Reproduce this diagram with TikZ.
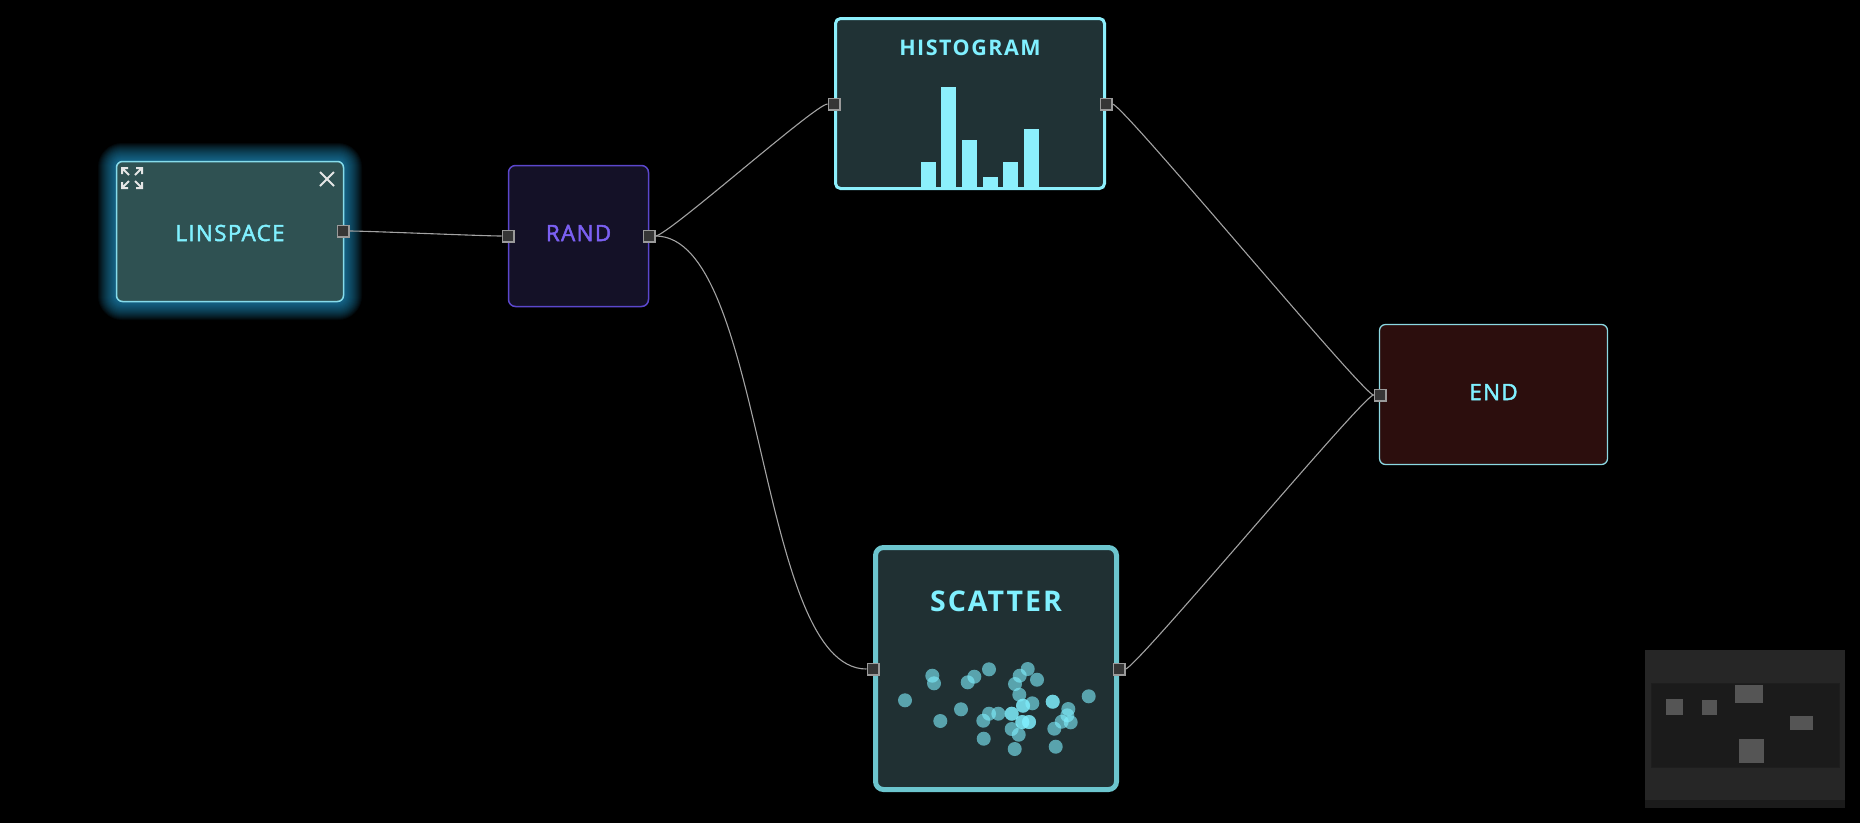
\documentclass[tikz,border=0pt]{standalone}
\usepackage{fontspec}
\setmainfont{Open Sans}
\newfontfamily\lblfont[LetterSpace=6,FakeBold=2.2]{Open Sans}
\newfontfamily\ttlfont[LetterSpace=7]{Open Sans}
\usetikzlibrary{calc}
\definecolor{bg}{HTML}{000000}
\definecolor{txtcyan}{HTML}{80F0FF}
\definecolor{lsfill}{HTML}{2F5152}
\definecolor{lsborder}{HTML}{86DCEB}
\definecolor{glowc}{HTML}{2AA8E0}
\definecolor{rfill}{HTML}{141127}
\definecolor{rborder}{HTML}{5B47CC}
\definecolor{rtext}{HTML}{7B60F2}
\definecolor{hfill}{HTML}{203235}
\definecolor{hborder}{HTML}{8CEFFC}
\definecolor{sfill}{HTML}{203033}
\definecolor{sborder}{HTML}{6CC5CE}
\definecolor{efill}{HTML}{2C0E0D}
\definecolor{eborder}{HTML}{8CD8E2}
\definecolor{portfill}{HTML}{363636}
\definecolor{portborder}{HTML}{9A9A9A}
\definecolor{edgec}{HTML}{A3A3A3}
\definecolor{mmouter}{HTML}{262626}
\definecolor{mminner}{HTML}{1B1B1B}
\definecolor{mmnode}{HTML}{555555}
\begin{document}
\begin{tikzpicture}[x=1pt,y=-1pt,
  box/.style={inner sep=0pt, outer sep=0pt},
  port/.style={draw=portborder, fill=portfill, line width=1.5pt, minimum size=11.5pt, inner sep=0pt},
  edge/.style={draw=edgec, line width=1.1pt},
  lbl/.style={text=txtcyan, font=\lblfont\fontsize{22.4}{26}\selectfont},
  title/.style={text=txtcyan, font=\ttlfont\bfseries\fontsize{21.5}{25}\selectfont},
  icon/.style={draw=white!90!black, line width=2pt},
  dot/.style={fill=txtcyan, fill opacity=0.6},
  bar/.style={fill=hborder}
]
\fill[bg] (0,0) rectangle (1860,823);
\useasboundingbox (0,0) rectangle (1860,823);

% glow around LINSPACE
\foreach \i in {1,...,18} {
  \fill[glowc, opacity=0.05, rounded corners=6+\i] (116-\i,161-\i) rectangle (344+\i,302+\i);
}

% LINSPACE
\node[box, draw=lsborder, fill=lsfill, line width=1.5pt, rounded corners=6pt,
  minimum width=227pt, minimum height=140pt] (ls) at (230,231.5) {};
\node[lbl] (lstxt) at (230,233) {LINSPACE};
% expand icon
\draw[icon] (122,174)--(122,168)--(128,168) (122,168)--(129,175);
\draw[icon] (136,168)--(142,168)--(142,174) (142,168)--(135,175);
\draw[icon] (122,182)--(122,188)--(128,188) (122,188)--(129,181);
\draw[icon] (142,182)--(142,188)--(136,188) (142,188)--(135,181);
% close icon
\draw[icon] (320,172)--(334,186) (334,172)--(320,186);

% RAND
\node[box, draw=rborder, fill=rfill, line width=1.5pt, rounded corners=7pt,
  minimum width=140pt, minimum height=141pt] (rand) at (578.5,236) {};
\node[lbl, text=rtext] (randtxt) at (578.5,233) {RAND};

% HISTOGRAM
\node[box, draw=hborder, fill=hfill, line width=3pt, rounded corners=5pt,
  minimum width=269pt, minimum height=170pt] (hist) at (970,103.5) {};
\node[title] (histtxt) at (970,48) {HISTOGRAM};
\fill[bar] (921,162) rectangle (936,188);
\fill[bar] (941,87) rectangle (956,188);
\fill[bar] (962,140) rectangle (977,188);
\fill[bar] (983,177) rectangle (998,188);
\fill[bar] (1003,162) rectangle (1018,188);
\fill[bar] (1024,129) rectangle (1039,188);

% SCATTER
\node[box, draw=sborder, fill=sfill, line width=5pt, rounded corners=8pt,
  minimum width=241pt, minimum height=242pt] (scat) at (996,668.5) {};
\node[title, font=\ttlfont\bfseries\fontsize{28.5}{32}\selectfont] (scattxt) at (996,601.5) {SCATTER};
\foreach \x/\y in {932.3/675.7, 934/683.3, 905/700.3, 940.3/721, 961/709.3, 967.7/682.3,
  974.3/676.7, 989/669.3, 983.3/720.7, 989/713.7, 998.3/713.7, 983.7/738.7,
  1011.7/713.7, 1011.7/713.7, 1015/684, 1019.7/675.7, 1027.7/669, 1037/679.7, 1019.3/694.7,
  1023/705.7, 1023/705.7, 1032.3/703.3, 1011.7/729, 1018.7/734.7, 1014.7/749,
  1022.3/722, 1022.3/722, 1029/722, 1029/722, 1052.7/701.7, 1052.7/701.7, 1054.3/728.7,
  1061.7/721.7, 1068.3/709, 1067.3/715.3, 1070.7/722.3, 1055.7/746.7, 1088.7/696.3} {
  \fill[dot] (\x,\y) circle (7);
}

% END
\node[box, draw=eborder, fill=efill, line width=1.3pt, rounded corners=6pt,
  minimum width=228pt, minimum height=140pt] (endn) at (1493.5,394.5) {};
\node[lbl] (endtxt) at (1493.5,392) {END};

% ports
\node[port] (lsout) at (343,231) {};
\node[port] (rin) at (508,236) {};
\node[port] (rout) at (649,236) {};
\node[port] (hin) at (834,104) {};
\node[port] (hout) at (1106,104) {};
\node[port] (sin) at (873,669) {};
\node[port] (sout) at (1119,669) {};
\node[port] (ein) at (1380,395) {};

% edges
\draw[edge] (lsout.east) .. controls +(18,0) and +(-18,0) .. (rin.west);
\draw[edge] (rout.east) .. controls +(12,0) and +(-12,0) .. (hin.west);
\draw[edge] (rout.east) .. controls +(110,0) and +(-110,0) .. (sin.west);
\draw[edge] (hout.east) .. controls +(10,0) and +(-10,0) .. (ein.west);
\draw[edge] (sout.east) .. controls +(10,0) and +(-10,0) .. (ein.west);

% minimap
\fill[mmouter] (1645,650) rectangle (1845,808);
\fill[mminner] (1645,800) rectangle (1845,808);
\fill[mminner, draw=mmouter!80!black] (1651,683) rectangle (1839,767);
\fill[mmnode] (1666,699) rectangle (1683,715);
\fill[mmnode] (1702,700) rectangle (1717,715);
\fill[mmnode] (1735,685) rectangle (1763,703);
\fill[mmnode] (1790,716) rectangle (1813,730);
\fill[mmnode] (1739,739) rectangle (1764,763);
\end{tikzpicture}
\end{document}
